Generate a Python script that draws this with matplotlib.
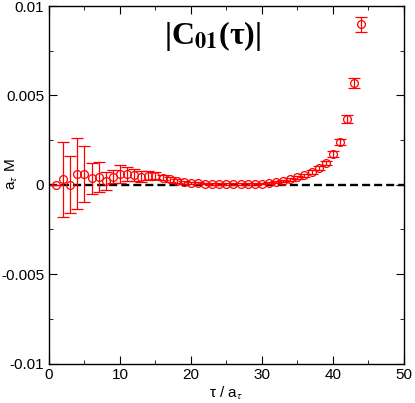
import matplotlib
matplotlib.use("Agg")
import matplotlib.pyplot as plt
import numpy as np

plt.rcParams['font.family'] = ['Liberation Sans', 'DejaVu Sans']
plt.rcParams['mathtext.fontset'] = 'stix'

tau = list(range(1, 45))
vals = [0.0000, 0.0003, 0.0000, 0.00063, 0.0006, 0.00036, 0.00043, 0.0002, 0.00045, 0.0006,
        0.0006, 0.00055, 0.00045, 0.0005, 0.0005, 0.0004, 0.0003, 0.0002, 0.00015, 0.0001,
        0.00008, 0.00007, 0.00006, 0.00006, 0.00006, 0.00006, 0.00006, 0.00006, 0.00006, 0.00007,
        0.0001, 0.00014, 0.0002, 0.0003, 0.00041, 0.00054, 0.00071, 0.00093, 0.00123, 0.00173,
        0.00239, 0.00366, 0.00567, 0.00897]
errs = [0.0, 0.0021, 0.0016, 0.0020, 0.00157, 0.00087, 0.00085, 0.0005, 0.00035, 0.00052,
        0.00037, 0.00034, 0.0003, 0.00025, 0.0002, 0.00015, 0.00012, 0.0001, 0.00008, 0.00006,
        0.00005, 0.00005, 0.00005, 0.00005, 0.00005, 0.00005, 0.00005, 0.00005, 0.00005, 0.00005,
        0.00005, 0.00005, 0.00006, 0.00007, 0.00008, 0.00009, 0.0001, 0.0001, 0.0001, 0.00015,
        0.00018, 0.00023, 0.00028, 0.0004]

fig = plt.figure(figsize=(4.15, 4.03), dpi=100)
ax = fig.add_axes([0.118, 0.098, 0.855, 0.887])

ax.axhline(0, color='black', lw=1.7, ls=(0, (3.4, 1.7)), zorder=1)
ax.errorbar(tau, vals, yerr=errs, fmt='o', mfc='none', mec='red', ecolor='red',
            ms=5.6, mew=0.9, elinewidth=0.9, capsize=4, capthick=0.9, zorder=3)

ax.set_xlim(0, 50)
ax.set_ylim(-0.01, 0.01)
ax.set_xticks([0, 10, 20, 30, 40, 50])
ax.set_xticks([5, 15, 25, 35, 45], minor=True)
ax.set_yticks([-0.01, -0.005, 0, 0.005, 0.01])
ax.set_yticklabels(['-0.01', '-0.005', '0', '0.005', '0.01'])
ax.set_yticks([-0.0075, -0.0025, 0.0025, 0.0075], minor=True)
ax.tick_params(which='both', direction='in', top=True, right=True, labelsize=11)
ax.tick_params(which='major', length=6)
ax.tick_params(which='minor', length=3)
for s in ax.spines.values():
    s.set_linewidth(1.0)

ax.set_xlabel('τ / a$_{\\tau}$', fontsize=11, labelpad=2)
ax.set_ylabel('a$_{\\tau}$ M', fontsize=11)
ax.yaxis.set_label_coords(-0.082, 0.53)
ax.text(0.462, 0.915, '|C$_{\\mathbf{01}}$(τ)|', transform=ax.transAxes, fontsize=23,
        fontweight='bold', family=['Liberation Serif', 'DejaVu Serif'],
        ha='center', va='center')

fig.savefig('out.png', dpi=100)
